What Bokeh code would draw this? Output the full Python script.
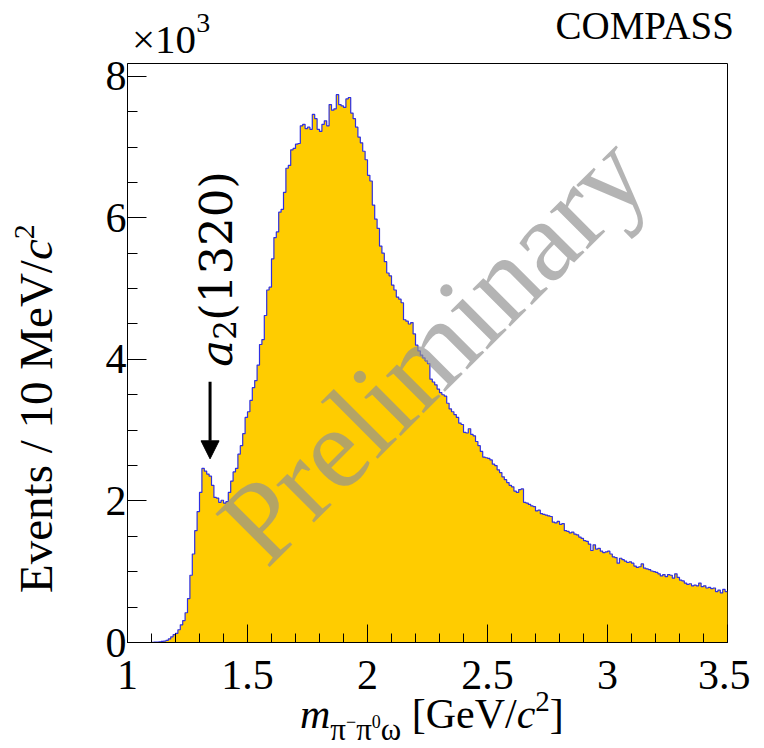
import math
import numpy as np
from bokeh.plotting import figure
from bokeh.layouts import column
from bokeh.models import Range1d, FixedTicker, Label, Arrow, NormalHead, NumeralTickFormatter, Div
from bokeh.embed import file_html
from bokeh.resources import INLINE

# ---------------- data ----------------
bin_low = 1.0          # GeV/c^2
bin_width = 0.01       # 10 MeV/c^2
# events per bin, in units of 10^3
events_k = [
    0, 0, 0, 0, 0, 0, 0, 0, 0, 0,
    0.002, 0.004, 0.006, 0.01, 0.015, 0.02, 0.03, 0.05, 0.08, 0.11,
    0.13, 0.18, 0.25, 0.31, 0.42, 0.62, 0.95, 1.25, 1.58, 1.85,
    2.12, 2.46, 2.42, 2.38, 2.35, 2.22, 2.05, 2.04, 1.98, 2.01,
    1.97, 1.99, 2.12, 2.28, 2.41, 2.46, 2.66, 2.78, 2.95, 3.18,
    3.26, 3.42, 3.60, 3.70, 3.92, 4.21, 4.28, 4.62, 4.98, 5.02,
    5.42, 5.72, 5.80, 6.08, 6.12, 6.36, 6.70, 6.74, 6.96, 6.98,
    7.04, 7.05, 7.30, 7.32, 7.26, 7.28, 7.25, 7.46, 7.40, 7.25,
    7.22, 7.32, 7.37, 7.30, 7.60, 7.52, 7.54, 7.74, 7.60, 7.58,
    7.56, 7.68, 7.70, 7.48, 7.40, 7.28, 7.14, 7.06, 6.94, 6.82,
    6.60, 6.52, 6.18, 5.98, 5.85, 5.60, 5.50, 5.38, 5.22, 5.18,
    5.05, 4.98, 4.88, 4.85, 4.80, 4.56, 4.54, 4.50, 4.52, 4.36,
    4.20, 4.12, 4.06, 4.02, 3.98, 3.94, 3.72, 3.68, 3.64, 3.58,
    3.53, 3.50, 3.48, 3.38, 3.30, 3.26, 3.22, 3.18, 3.10, 3.08,
    2.97, 2.96, 3.02, 2.94, 2.92, 2.84, 2.78, 2.70, 2.62, 2.61,
    2.60, 2.58, 2.52, 2.50, 2.44, 2.40, 2.34, 2.30, 2.26, 2.22,
    2.20, 2.14, 2.12, 2.16, 2.17, 1.98, 1.97, 1.95, 1.93, 1.92,
    1.86, 1.87, 1.82, 1.81, 1.80, 1.79, 1.78, 1.70, 1.69, 1.71,
    1.67, 1.68, 1.58, 1.57, 1.55, 1.56, 1.53, 1.52, 1.49, 1.47,
    1.44, 1.43, 1.39, 1.30, 1.38, 1.32, 1.33, 1.29, 1.27, 1.28,
    1.29, 1.25, 1.21, 1.20, 1.12, 1.19, 1.17, 1.15, 1.13, 1.14,
    1.12, 1.08, 1.06, 1.07, 1.11, 1.05, 1.04, 1.03, 1.01, 1.00,
    0.99, 0.97, 0.94, 0.96, 0.93, 0.96, 0.95, 0.91, 0.97, 0.92,
    0.88, 0.87, 0.84, 0.82, 0.83, 0.80, 0.81, 0.80, 0.84, 0.79,
    0.80, 0.77, 0.78, 0.76, 0.77, 0.72, 0.74, 0.70, 0.75, 0.72,
]
x_major_ticks = [1, 1.5, 2, 2.5, 3, 3.5]
y_major_ticks = [0, 2, 4, 6, 8]
a2_mass = 1.344        # arrow position, GeV/c^2

# ---------------- figure ----------------
X0, X1 = 1.0, 3.5
Y0, Y1 = 0.0, 8.18
FL, FT, FW, FH = 134.7, 71.0, 600.0, 578.5   # frame in page pixels
FB = FT + FH
FIG_W, FIG_H = 750, 731


def sx(px):
    return X0 + (px - FL) / FW * (X1 - X0)


def sy(py):
    return Y0 + (FB - py) / FH * (Y1 - Y0)


p = figure(width=FIG_W, height=FIG_H, x_range=Range1d(X0, X1), y_range=Range1d(Y0, Y1),
           output_backend="svg", toolbar_location=None,
           min_border_left=127, min_border_right=23, min_border_top=63, min_border_bottom=89)
p.background_fill_color = "white"
p.border_fill_color = "white"
p.outline_line_color = "black"
p.outline_line_width = 1
p.xgrid.visible = False
p.ygrid.visible = False

edges = bin_low + bin_width * np.arange(len(events_k) + 1)
yy = list(events_k) + [events_k[-1]]
p.varea_step(x=edges, y1=np.zeros(len(edges)), y2=yy, step_mode="after", fill_color="#ffcc00")
p.step(x=edges, y=yy, mode="after", line_color="#2f2fe0", line_width=1.2)

minor_x = [round(1 + 0.1 * i, 2) for i in range(26)]
minor_y = [0.5 * i for i in range(17)]
p.xaxis.ticker = FixedTicker(ticks=x_major_ticks, minor_ticks=minor_x)
p.yaxis.ticker = FixedTicker(ticks=y_major_ticks, minor_ticks=minor_y)
p.xaxis.formatter = NumeralTickFormatter(format="0.[0]")

for ax in (p.xaxis[0], p.yaxis[0]):
    ax.axis_line_color = "black"
    ax.axis_line_width = 1
    ax.major_tick_line_color = "black"
    ax.minor_tick_line_color = "black"
    ax.major_tick_out = 0
    ax.minor_tick_out = 0
    ax.major_label_text_font = "Liberation Serif"
    ax.major_label_text_font_size = "42px"
    ax.major_label_text_color = "black"
p.xaxis.major_tick_in = 18
p.xaxis.minor_tick_in = 9
p.yaxis.major_tick_in = 19
p.yaxis.minor_tick_in = 10
p.xaxis.major_label_standoff = 18
p.yaxis.major_label_standoff = 1


def lab(x, y, text, size, style="normal", align="left", angle=0.0, font="Liberation Serif",
        baseline="alphabetic", color="black", alpha=1.0):
    p.add_layout(Label(x=x, y=y, text=text, text_font=font, text_font_size=f"{size}px",
                       text_font_style=style, text_align=align, text_baseline=baseline,
                       angle=angle, text_color=color, text_alpha=alpha))


V = math.pi / 2
# a2(1320) annotation (inside the frame)
lab(sx(224), sy(374), "a", 45, style="italic", angle=V, font="DejaVu Serif")
lab(sx(232), sy(347), "2", 31, angle=V, font="DejaVu Serif")
lab(sx(224), sy(328), "(1320)", 45, angle=V, font="DejaVu Serif")
p.add_layout(Arrow(x_start=a2_mass, y_start=sy(389), x_end=a2_mass, y_end=sy(466),
                   line_width=3, line_color="black",
                   end=NormalHead(size=18, fill_color="black", line_color="black")))

# watermark
lab(sx(440), sy(356), "Preliminary", 116, align="center", baseline="middle",
    angle=math.pi / 4, color="#929292", alpha=0.69)

# ---------------- texts outside the frame (HTML overlay) ----------------
OX, OY = 2, 8 + FIG_H          # page position of the overlay's origin
ASC = 0.8375                   # baseline depth below line-box top (line-height 1)


def box(X, Yb, fs, inner, extra=""):
    left = X - OX
    top = Yb - ASC * fs - OY
    return (f'<div style="position:absolute;left:{left:.1f}px;top:{top:.1f}px;'
            f'font-size:{fs}px;line-height:1;white-space:nowrap;{extra}">{inner}</div>')


def shift(text, dy, fs, style=""):
    return f'<span style="position:relative;top:{dy}px;font-size:{fs}px;{style}">{text}</span>'


parts = []
# exponent and experiment tag
parts.append(box(134, 50, 41, "×10" + shift("3", -21, 28)))
parts.append(box(736, 36, 39, "COMPASS", extra="transform:translateX(-100%);"))
# x title
sub = ("π" + shift("−", -12, 18) + "π" + shift("0", -12, 18) + "ω")
parts.append(box(302, 725, 42,
                 '<i>m</i>' + shift(sub, 12, 31) + ' [GeV/<i>c</i>' + shift("2", -17, 29) + ']'))
# y title (rotated, reading upwards)
fs_y = 47
parts.append(box(54 - ASC * fs_y, 590 + ASC * fs_y, fs_y,
                 'Events / 10 MeV/<i>c</i>' + shift("2", -18, 30),
                 extra="transform-origin:0 0;transform:rotate(-90deg);"))

html = ('<div style="position:relative;width:%dpx;height:1px;font-family:\'Liberation Serif\',serif;'
        'color:black;">' % FIG_W) + "".join(parts) + "</div>"
overlay = Div(text=html, width=FIG_W, height=1, margin=0, styles={"overflow": "visible"})

layout = column(p, overlay, spacing=0)
open("out.html", "w").write(file_html(layout, INLINE))
